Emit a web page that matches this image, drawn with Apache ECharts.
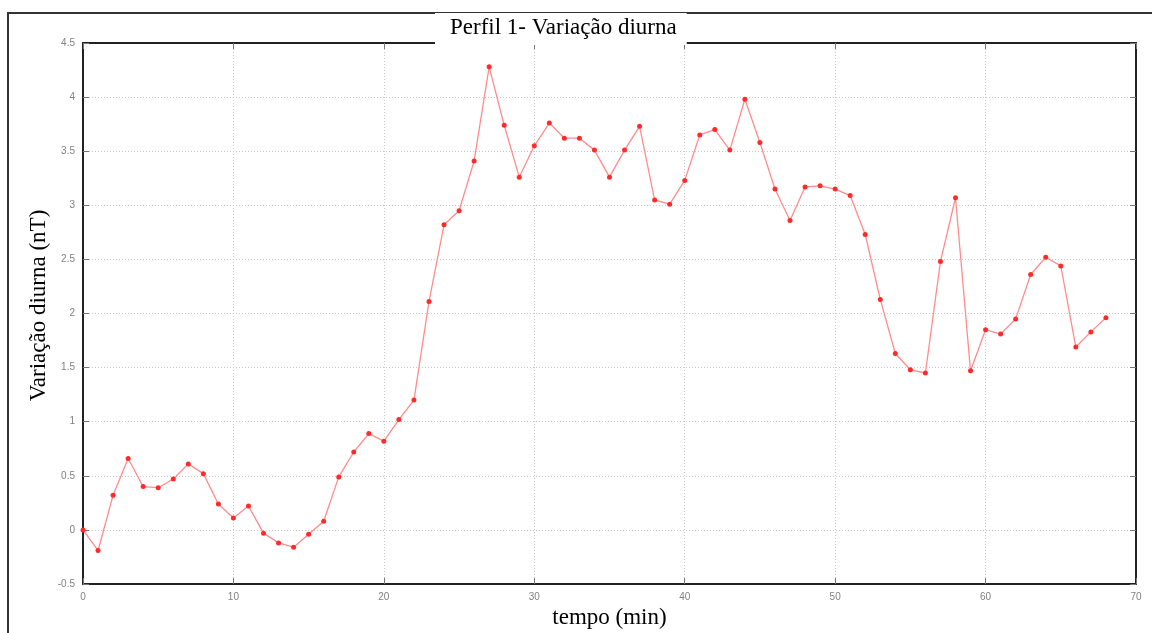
<!DOCTYPE html>
<html>
<head>
<meta charset="utf-8">
<script src="https://cdn.jsdelivr.net/npm/echarts@6/dist/echarts.min.js"></script>
<style>
  html, body { margin: 0; padding: 0; background: #fff; }
  #chart { width: 1152px; height: 633px; }
</style>
</head>
<body>
<div id="chart"></div>
<script>
// tempo (min)
const tempo = [
  0, 1, 2, 3, 4, 5, 6, 7, 8, 9, 10, 11, 12, 13, 14, 15, 16, 17, 18, 19,
  20, 21, 22, 23, 24, 25, 26, 27, 28, 29, 30, 31, 32, 33, 34, 35, 36, 37, 38, 39,
  40, 41, 42, 43, 44, 45, 46, 47, 48, 49, 50, 51, 52, 53, 54, 55, 56, 57, 58, 59,
  60, 61, 62, 63, 64, 65, 66, 67, 68
];
// Variação diurna (nT)
const variacao = [
  0, -0.19, 0.32, 0.66, 0.40, 0.39, 0.47, 0.61, 0.52, 0.24, 0.11, 0.22, -0.03, -0.12, -0.16, -0.04, 0.08, 0.49, 0.72, 0.89,
  0.82, 1.02, 1.20, 2.11, 2.82, 2.95, 3.41, 4.28, 3.74, 3.26, 3.55, 3.76, 3.62, 3.62, 3.51, 3.26, 3.51, 3.73, 3.05, 3.01,
  3.23, 3.65, 3.70, 3.51, 3.98, 3.58, 3.15, 2.86, 3.17, 3.18, 3.15, 3.09, 2.73, 2.13, 1.63, 1.48, 1.45, 2.48, 3.07, 1.47,
  1.85, 1.81, 1.95, 2.36, 2.52, 2.44, 1.69, 1.83, 1.96
];

const chart = echarts.init(document.getElementById("chart"));

const tickLabel = { color: "#808080", fontSize: 10, fontFamily: "Liberation Sans" };
const gridLine = { show: true, showMinLine: false, showMaxLine: false, lineStyle: { color: "#c8c8c8", type: [1, 2], width: 1 } };
const tick = { show: true, inside: true, length: 6, lineStyle: { color: "#777", width: 1 } };
const frame = { show: true, onZero: false, lineStyle: { color: "#222", width: 2 } };
const nameFont = { fontFamily: "Liberation Serif", fontSize: 23, color: "#000" };

chart.setOption({
  backgroundColor: "#fff",
  animation: false,
  title: {
    text: "Perfil 1- Variação diurna",
    left: 435,
    top: 13,
    padding: [3, 10, 6, 15],
    backgroundColor: "#fff",
    z: 20,
    textStyle: { fontFamily: "Liberation Serif", fontWeight: "normal", fontSize: 23, color: "#000" }
  },
  graphic: [{
    type: "rect",
    shape: { x: 8, y: 13, width: 1200, height: 700 },
    style: { fill: "none", stroke: "#333", lineWidth: 2 },
    silent: true,
    z: -10
  }],
  grid: { left: 83, top: 43, right: 16, bottom: 49, outerBoundsMode: "none", containLabel: false },
  xAxis: [{
    type: "value", min: 0, max: 70, interval: 10,
    name: "tempo (min)", nameLocation: "middle", nameGap: 18, nameTextStyle: nameFont,
    axisLine: frame, axisTick: tick, axisLabel: tickLabel, splitLine: gridLine
  }, {
    type: "value", min: 0, max: 70, interval: 10, position: "top",
    axisLine: frame, axisTick: tick, axisLabel: { show: false }, splitLine: { show: false }
  }],
  yAxis: [{
    type: "value", min: -0.5, max: 4.5, interval: 0.5,
    name: "Variação diurna (nT)", nameLocation: "middle", nameGap: 33, nameRotate: 90,
    nameMoveOverlap: false,
    nameTextStyle: Object.assign({ padding: [0, 0, 0, 16] }, nameFont),
    axisLine: frame, axisTick: tick, axisLabel: tickLabel, splitLine: gridLine
  }, {
    type: "value", min: -0.5, max: 4.5, interval: 0.5, position: "right",
    axisLine: frame, axisTick: tick, axisLabel: { show: false }, splitLine: { show: false }
  }],
  series: [{
    type: "line",
    data: tempo.map((t, i) => [t, variacao[i]]),
    symbol: "circle",
    symbolSize: 5,
    itemStyle: { color: "#ff2a2a" },
    lineStyle: { color: "#ff8c8c", width: 1.3 }
  }]
});
</script>
</body>
</html>
